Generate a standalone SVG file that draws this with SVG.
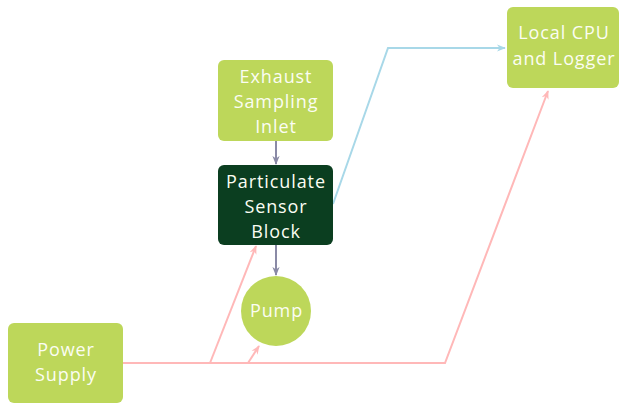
<svg xmlns="http://www.w3.org/2000/svg" width="620" height="404" viewBox="0 0 620 404">
<style>
.lb{fill:#bdd75a}
.dk{fill:#0b3e20}
text{font-family:"Open Sans",Lato,sans-serif;font-size:18px;letter-spacing:0.9px;fill:#fbfdf3;text-anchor:middle}
.c{fill:none;stroke-width:2}
.pk{stroke:#ffb8b8}
.bl{stroke:#a8d8e8}
.gy{stroke:#8a8aa6}
</style>
<defs>
<marker id="ap" viewBox="0 0 10 10" refX="9" refY="5" markerWidth="9" markerHeight="9" markerUnits="userSpaceOnUse" orient="auto"><path d="M0,1 L10,5 L0,9 L3,5 Z" fill="#ffb8b8"/></marker>
<marker id="ab" viewBox="0 0 10 10" refX="9" refY="5" markerWidth="9" markerHeight="9" markerUnits="userSpaceOnUse" orient="auto"><path d="M0,1 L10,5 L0,9 L3,5 Z" fill="#a8d8e8"/></marker>
<marker id="ag" viewBox="0 0 10 10" refX="9" refY="5" markerWidth="9" markerHeight="9" markerUnits="userSpaceOnUse" orient="auto"><path d="M0,1 L10,5 L0,9 L3,5 Z" fill="#8a8aa6"/></marker>
</defs>
<g id="connectors">
<path class="c pk" d="M123,363 L445,363 L548,91" marker-end="url(#ap)"/>
<path class="c pk" d="M210,363 L256,246" marker-end="url(#ap)"/>
<path class="c pk" d="M248,363 L259,346" marker-end="url(#ap)"/>
<path class="c bl" d="M333,204 L388,48 L505,48" marker-end="url(#ab)"/>
<path class="c gy" d="M276,141 L276,164" marker-end="url(#ag)"/>
<path class="c gy" d="M276,245 L276,275" marker-end="url(#ag)"/>
</g>
<g id="exhaust">
<rect class="lb" x="218" y="60" width="115" height="81" rx="6"/>
<text x="276" y="83">Exhaust</text>
<text x="276" y="108">Sampling</text>
<text x="276" y="133">Inlet</text>
</g>
<g id="sensor">
<rect class="dk" x="218" y="165" width="115" height="80" rx="6"/>
<text x="276" y="188">Particulate</text>
<text x="276" y="213">Sensor</text>
<text x="276" y="238">Block</text>
</g>
<g id="cpu">
<rect class="lb" x="507" y="7" width="112" height="81" rx="6"/>
<text x="564" y="39">Local CPU</text>
<text x="564" y="65">and Logger</text>
</g>
<g id="pump">
<circle class="lb" cx="276" cy="311" r="35"/>
<text x="276.5" y="317">Pump</text>
</g>
<g id="power">
<rect class="lb" x="8" y="323" width="115" height="80" rx="6"/>
<text x="66" y="356">Power</text>
<text x="66" y="381">Supply</text>
</g>
</svg>
